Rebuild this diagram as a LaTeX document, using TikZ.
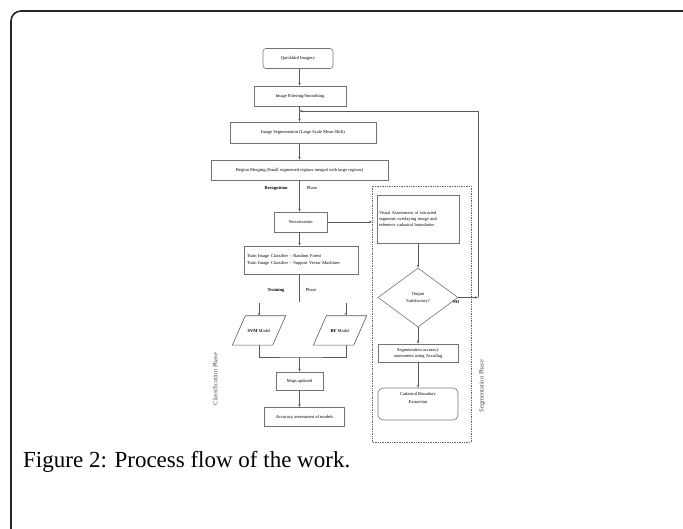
\documentclass[tikz,border=0pt]{standalone}
\usepackage{fontspec}
\setmainfont{Liberation Serif}
\usetikzlibrary{arrows.meta,shapes.geometric}
\begin{document}
\begin{tikzpicture}[x=1pt,y=-1pt,
  bx/.style={draw=black!55, line width=0.6pt, inner sep=1pt, align=center,
    font=\fontsize{4.5}{6}\selectfont},
  rbx/.style={bx, rounded corners=3pt},
  lab/.style={inner sep=0pt, font=\fontsize{4.5}{6}\selectfont},
  ln/.style={draw=black!65, line width=0.6pt},
  ar/.style={ln, -{Stealth[length=3pt,width=2.4pt]}},
  phase/.style={inner sep=0pt, text=black!70, font=\fontsize{6.5}{7}\selectfont, rotate=90}]
\useasboundingbox (0,0) rectangle (683,529);
\draw[line width=1.6pt, black!85, rounded corners=10pt] (11,11) rectangle (696,560);
\coordinate (cx) at (299.5,0);
\coordinate (rx) at (418,0);

% left column
\node[rbx, minimum width=70pt, minimum height=20pt] (qb) at (298,58.5) {Quickbird Imagery};
\node[bx, minimum width=92pt, minimum height=20pt] (filt) at (300,96) {Image Filtering/Smoothing};
\node[bx, minimum width=146pt, minimum height=21pt] (seg) at (303,132.5) {Image Segmentation (Large Scale Mean Shift)};
\node[bx, minimum width=177pt, minimum height=20pt] (merge) at (299.5,170) {Region Merging (Small segmented regions merged with large regions)};
\node[lab, font=\fontsize{4.5}{6}\selectfont\bfseries] (rec) at (276,188) {Recognition};
\node[lab] (recp) at (312,188) {Phase};
\node[bx, minimum width=53pt, minimum height=20pt] (vec) at (300.5,222) {Vectorization};
\node[bx, minimum width=114pt, minimum height=28pt, align=left, text width=108pt] (train) at (301,260)
  {Train Image Classifier – Random Forest\\[1pt]Train Image Classifier – Support Vector Machines};
\node[lab, font=\fontsize{4.5}{6}\selectfont\bfseries] (trn) at (276,290) {Training};
\node[lab] (trnp) at (311,290) {Phase};
\coordinate (tend) at (299.5,302);

% parallelograms
\node[lab, minimum width=40pt, minimum height=29pt] (svm) at (259,330.5) {\textbf{SVM} Model};
\node[lab, minimum width=40pt, minimum height=29pt] (rf) at (340,330.5) {\textbf{RF} Model};
\draw[ln] ([xshift=6.5pt]svm.north west) -- ([xshift=6.5pt]svm.north east) -- ([xshift=-6.5pt]svm.south east) -- ([xshift=-6.5pt]svm.south west) -- cycle;
\draw[ln] ([xshift=6.5pt]rf.north west) -- ([xshift=6.5pt]rf.north east) -- ([xshift=-6.5pt]rf.south east) -- ([xshift=-6.5pt]rf.south west) -- cycle;
\coordinate (svmin) at (259,303);
\coordinate (rfin) at (346,303);
\coordinate (join) at (299.5,357);

\node[bx, minimum width=47pt, minimum height=18pt] (maps) at (299.5,381) {Maps updated};
\node[bx, minimum width=80pt, minimum height=19pt] (acc) at (304.5,417) {Accuracy assessment of models};
\node[phase] (clsph) at (215,379) {Classification Phase};

% right column
\draw[draw=black!60, line width=0.6pt, dash pattern=on 1.4pt off 1pt] (372,186) rectangle (471,442);
\node[bx, minimum width=82pt, minimum height=48pt, anchor=north, align=left, text width=78pt] (vis) at (418,195)
  {Visual Assessment of extracted\\segments overlaying image and\\reference cadastral boundaries};
\node[draw=black!55, line width=0.6pt, diamond, minimum width=80pt, minimum height=59pt, inner sep=0pt, align=center,
  font=\fontsize{4.5}{6}\selectfont] (dia) at (418,297.5) {Output\\[1pt]Satisfactory?};
\node[bx, minimum width=80pt, minimum height=18pt] (segacc) at (418,353) {Segmentation accuracy\\assessment using Accuflag};
\node[rbx, rounded corners=5pt, minimum width=80pt, minimum height=32pt] (cad) at (418,404) {};
\node[lab, align=center, anchor=north] (cadt) at ([yshift=-4pt]cad.north) {Cadastral Boundary\\[2pt]Extraction};
\node[lab, font=\fontsize{4.5}{6}\selectfont\bfseries] (no) at (456,302.5) {NO};
\coordinate (fbr) at (478,297.5);
\coordinate (fbt) at (299.5,111);
\node[phase] (segph) at (482,386) {Segmentation Phase};

% connectors
\draw[ar] (qb.south -| cx) -- (filt.north -| cx);
\draw[ar] (filt.south -| cx) -- (seg.north -| cx);
\draw[ar] (seg.south -| cx) -- (merge.north -| cx);
\draw[ar] (merge.south -| cx) -- (vec.north -| cx);
\draw[ar] (vec.south -| cx) -- (train.north -| cx);
\draw[ln] (train.south -| cx) -- (tend);
\draw[ar] (svmin) -- (svm.north -| svmin);
\draw[ar] (rfin) -- (rf.north -| rfin);
\draw[ln] (svm.south -| svmin) |- (join) -| (rf.south -| rfin);
\draw[ar] (join) -- (maps.north -| cx);
\draw[ar] (maps.south -| cx) -- (acc.north -| cx);
\draw[ar] (vec.east) -- (372,222);
\draw[ar] (vis.south -| rx) -- (dia.north);
\draw[ar] (dia.south) -- (segacc.north -| rx);
\draw[ar] (segacc.south -| rx) -- (cad.north -| rx);
\draw[ar] (dia.east) -- (fbr);
\draw[ar] (fbr) |- (fbt);

\node[anchor=west, inner sep=0pt, font=\fontsize{23}{27}\selectfont] (cap) at (23,462) {Figure 2: Process flow of the work.};
\end{tikzpicture}
\end{document}
